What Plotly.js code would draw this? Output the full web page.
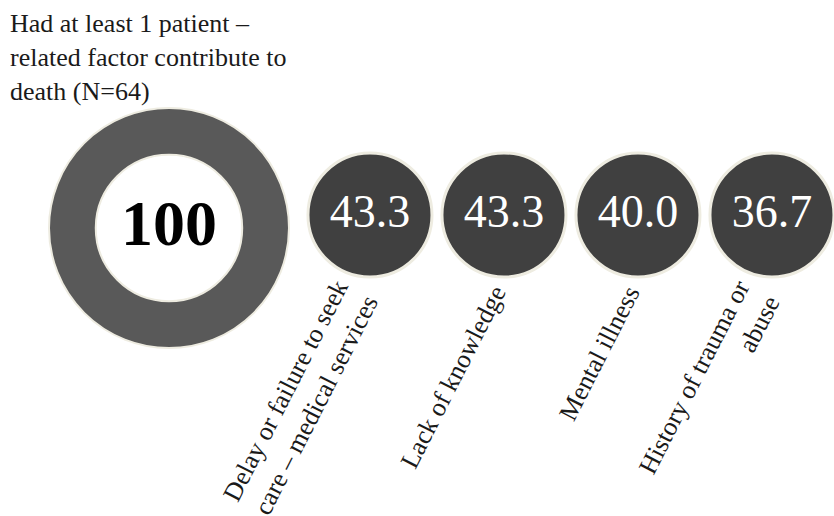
<!DOCTYPE html>
<html>
<head>
<meta charset="utf-8">
<script src="https://cdn.plot.ly/plotly-3.0.1.min.js"></script>
<style>html,body{margin:0;padding:0;background:#fff;}#chart{width:834px;height:516px;}</style>
</head>
<body>
<div id="chart"></div>
<script>
// ---- data ----
const headlineLabel = 'Had at least 1 patient –<br>related factor contribute to<br>death (N=64)';
const headlineValue = 100;
const categories = [
  'Delay or failure to seek<br>care – medical services',
  'Lack of knowledge',
  'Mental illness',
  'History of trauma or<br>abuse'
];
const values = [43.3, 43.3, 40.0, 36.7];

// ---- styles / layout ----
const FONT = '"Liberation Serif", "Times New Roman", serif';
const ringColor = '#595959';
const circleColor = '#404040';
const edgeColor = '#eeece1';
const donutDomain = {x: [49/834, 289/834], y: [168/516, 408/516]};

const idx = categories.map((c, i) => i);

const donut = {
  type: 'pie',
  values: [headlineValue],
  labels: ['all'],
  hole: 0.61,
  sort: false,
  textinfo: 'none',
  hoverinfo: 'none',
  showlegend: false,
  marker: {colors: [ringColor], line: {color: edgeColor, width: 2}},
  domain: donutDomain
};

const circles = {
  type: 'scatter',
  mode: 'markers+text',
  x: idx,
  y: idx.map(() => 0),
  text: values.map(v => v.toFixed(1)),
  textposition: 'middle center',
  textfont: {family: FONT, size: 46, color: '#ffffff'},
  marker: {size: 124, color: circleColor, line: {color: edgeColor, width: 3}},
  hoverinfo: 'none',
  showlegend: false,
  cliponaxis: false
};

const annotations = categories.map((c, i) => {
  const multi = c.indexOf('<br>') >= 0;
  return {
    x: i, xref: 'x',
    y: (516 - 278) / 516, yref: 'paper',
    text: c,
    showarrow: false,
    textangle: -63,
    xanchor: 'right',
    yanchor: 'top',
    xshift: multi ? 17 : 11,
    yshift: multi ? 5 : 0,
    align: 'right',
    font: {family: FONT, size: 26, color: '#1a1a1a'}
  };
});

annotations.push({
  x: (donutDomain.x[0] + donutDomain.x[1]) / 2, xref: 'paper',
  y: (donutDomain.y[0] + donutDomain.y[1]) / 2 + 5/516, yref: 'paper',
  text: String(headlineValue),
  showarrow: false,
  xanchor: 'center', yanchor: 'middle',
  font: {family: FONT, size: 64, color: '#000000', weight: 'bold'}
});

annotations.push({
  x: 8/834, xref: 'paper',
  y: 1 - 7/516, yref: 'paper',
  text: headlineLabel,
  showarrow: false,
  xanchor: 'left', yanchor: 'top',
  align: 'left',
  font: {family: FONT, size: 26, color: '#1a1a1a'}
});

const layout = {
  width: 834, height: 516,
  margin: {l: 0, r: 0, t: 0, b: 0},
  paper_bgcolor: '#ffffff',
  plot_bgcolor: '#ffffff',
  xaxis: {type: 'linear', range: [-2.761, 3.463], visible: false, fixedrange: true},
  yaxis: {range: [-1.4, 1], visible: false, fixedrange: true},
  annotations: annotations,
  showlegend: false
};

Plotly.newPlot('chart', [donut, circles], layout, {staticPlot: true, displayModeBar: false});
</script>
</body>
</html>
